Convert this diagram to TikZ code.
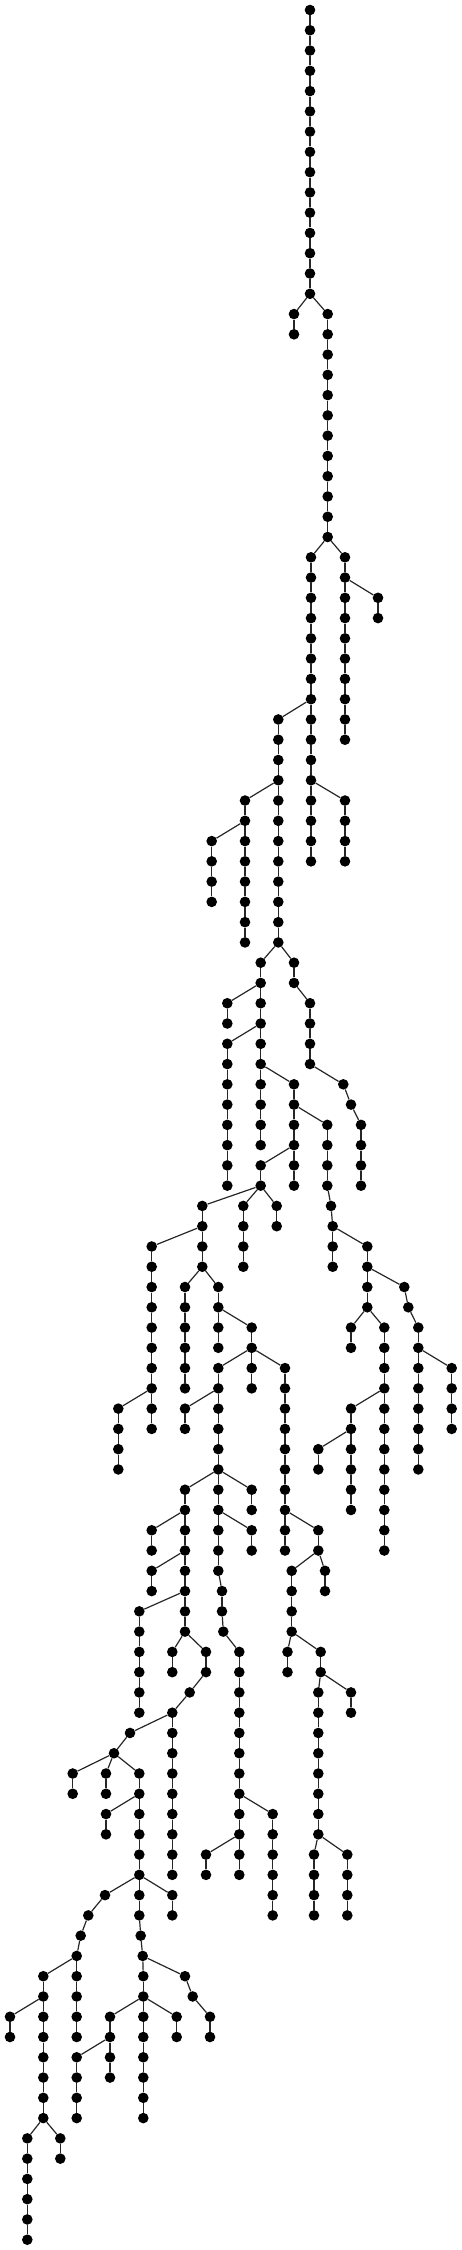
\documentclass[tikz,border=0pt]{standalone}
\tikzset{
  dot/.style={circle,fill=black,draw=none,inner sep=0pt,minimum size=10.6pt},
  edge/.style={draw=black!85,line width=1.2pt}
}
\newcommand\chainA[5]{%
  \node[dot] (#1-#3) at (#2,#3) {};
  \draw[edge] (#5) -- (#1-#3);
  \ifnum#3<#4\relax
  \pgfmathtruncatemacro\chnext{#3+1}%
  \foreach \k [remember=\k as \pk (initially #3)] in {\chnext,...,#4}{%
    \node[dot] (#1-\k) at (#2,\k) {};
    \draw[edge] (#1-\pk) -- (#1-\k);
  }%
  \fi
}
\newcommand\nd[4]{%
  \node[dot] (#1) at (#2,#3) {};
  \draw[edge] (#4) -- (#1);
}
\begin{document}
\begin{tikzpicture}[x=1pt,y=-20.27pt]
\useasboundingbox (0pt,0pt) rectangle (462pt,-2250pt);
\begin{scope}[yshift=-10pt]
\node[dot] (T-0) at (310,0) {};
\chainA{T}{310}{1}{14}{T-0}
\chainA{A}{294}{15}{16}{T-14}
\chainA{B}{327.7}{15}{26}{T-14}
\chainA{C}{311}{27}{42}{B-26}
\chainA{D}{345}{27}{36}{B-26}
\chainA{E}{378}{29}{30}{D-28}
\chainA{F}{278.3}{35}{46}{C-34}
\chainA{G}{345}{39}{42}{C-38}
\chainA{H}{245}{39}{46}{F-38}
\chainA{I}{211.7}{41}{44}{H-40}
\chainA{J}{260.7}{47}{56}{F-46}
\chainA{K}{294}{47}{48}{F-46}
\chainA{L}{310}{49}{52}{K-48}
\nd{m53}{343.3}{53}{L-52}
\nd{m54}{351}{54}{m53}
\chainA{N}{361}{55}{58}{m54}
\chainA{O}{227.3}{49}{50}{J-48}
\chainA{P}{227.3}{51}{58}{J-50}
\chainA{Q}{294}{53}{58}{J-52}
\chainA{R}{327.3}{55}{58}{Q-54}
\nd{r59}{331}{59}{R-58}
\chainA{S}{332.7}{60}{62}{r59}
\chainA{U}{367.3}{61}{64}{S-60}
\chainA{V}{260.7}{57}{58}{Q-56}
\chainA{W}{202.3}{59}{62}{V-58}
\chainA{X}{243.3}{59}{62}{V-58}
\chainA{Y}{276.7}{59}{60}{V-58}
\chainA{Z}{151.7}{61}{70}{W-60}
\chainA{AA}{185}{63}{68}{W-62}
\chainA{AB}{218.3}{63}{66}{W-62}
\chainA{AC}{118.3}{69}{72}{Z-68}
\chainA{AD}{251.7}{65}{68}{AB-64}
\chainA{AE}{218.3}{67}{72}{AD-66}
\chainA{AF}{285}{67}{76}{AD-66}
\chainA{AG}{185}{69}{70}{AE-68}
\chainA{AH}{351}{65}{66}{U-64}
\chainA{AI}{384.3}{65}{76}{U-64}
\chainA{AJ}{351}{69}{74}{AI-68}
\chainA{AK}{318.3}{71}{72}{AJ-70}
\nd{u63}{404.3}{63}{U-62}
\nd{u64}{408.3}{64}{u63}
\chainA{AL}{418.3}{65}{72}{u64}
\chainA{AM}{451.7}{67}{70}{AL-66}
\chainA{BA}{185}{73}{80}{AE-72}
\chainA{BB}{218.3}{73}{77}{AE-72}
\nd{b78}{222}{78}{BB-77}
\nd{b79}{222}{79}{b78}
\nd{b80}{223.3}{80}{b79}
\chainA{BC}{239.3}{81}{92}{b80}
\chainA{BD}{251.7}{73}{74}{AE-72}
\chainA{BE}{251.7}{75}{76}{BB-74}
\chainA{BF}{151.7}{75}{76}{BA-74}
\chainA{BG}{151.7}{77}{78}{BA-76}
\chainA{BH}{139.3}{79}{84}{BA-78}
\chainA{BI}{172.3}{81}{82}{BA-80}
\chainA{BJ}{206}{81}{82}{BA-80}
\nd{bj83}{189.7}{83}{BJ-82}
\chainA{BK}{172.3}{84}{92}{bj83}
\nd{bk85}{130}{85}{BK-84}
\nd{bk86}{114}{86}{bk85}
\chainA{BL}{72.7}{87}{88}{bk86}
\chainA{BM}{106}{87}{88}{bk86}
\chainA{BN}{139.3}{87}{92}{bk86}
\chainA{BO}{106}{89}{90}{BN-88}
\chainA{BP}{172.3}{93}{94}{BN-92}
\chainA{BQ}{139.3}{93}{94}{BN-92}
\nd{bq95}{140.7}{95}{BQ-94}
\nd{bq96}{142.7}{96}{bq95}
\chainA{BR}{143.3}{97}{98}{bq96}
\nd{bs97}{185}{97}{bq96}
\nd{bs98}{192.7}{98}{bs97}
\chainA{BT}{210}{99}{100}{bs98}
\chainA{BU}{110}{99}{102}{BR-98}
\chainA{BV}{143.3}{99}{104}{BR-98}
\chainA{BW}{176.7}{99}{100}{BR-98}
\chainA{BX}{76.7}{101}{104}{BU-100}
\nd{bl93}{105}{93}{BN-92}
\nd{bl94}{88.3}{94}{bl93}
\nd{bl95}{80.7}{95}{bl94}
\chainA{CA}{76.7}{96}{100}{bl95}
\chainA{CB}{43.3}{97}{104}{CA-96}
\chainA{CC}{10}{99}{100}{CB-98}
\chainA{CD}{27.3}{105}{110}{CB-104}
\chainA{CE}{60.3}{105}{106}{CB-104}
\chainA{CF}{206}{91}{92}{BC-90}
\chainA{CG}{272.7}{89}{94}{BC-88}
\chainA{CH}{318.3}{75}{76}{AF-74}
\chainA{CI}{325}{77}{78}{CH-76}
\chainA{CJ}{291.7}{77}{80}{CH-76}
\chainA{CK}{287.5}{81}{82}{CJ-80}
\chainA{CL}{320.7}{81}{82}{CJ-80}
\chainA{CM}{318.3}{83}{90}{CL-82}
\chainA{CN}{351}{83}{84}{CL-82}
\chainA{CO}{314}{91}{94}{CM-90}
\chainA{CP}{347.3}{91}{94}{CM-90}
\end{scope}
\end{tikzpicture}
\end{document}
